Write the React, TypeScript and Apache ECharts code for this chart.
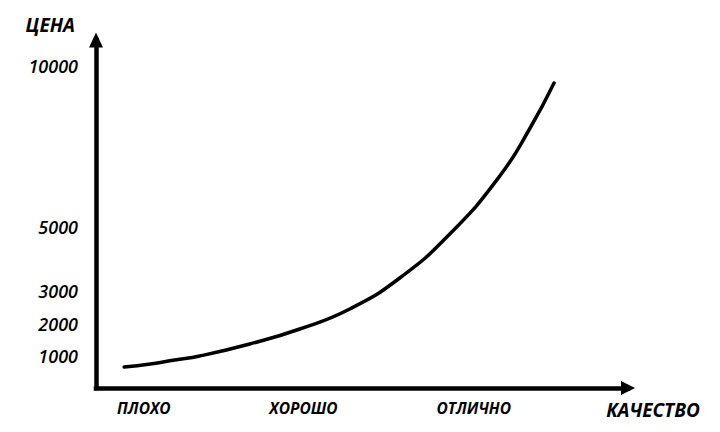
import React, { useEffect, useRef } from "react";
import * as echarts from "echarts";

// Quality axis (x): label names and their positions on a 0..100 quality score
const qualityLabels = ["ПЛОХО", "ХОРОШО", "ОТЛИЧНО"];
const qualityScores = [9, 39, 71];

// Price axis (y): tick labels shown
const priceTicks = [1000, 2000, 3000, 5000, 10000];

// Price–quality curve
const curveQuality = [5.3, 10.2, 14.8, 19.5, 28.9, 38.3, 47.7, 57.1, 66.5, 75.9, 81.6, 86.1];
const curvePrice = [652, 745, 869, 993, 1366, 1831, 2452, 3414, 4779, 6579, 8069, 9466];

const FONT = "'Open Sans', 'Noto Sans', sans-serif";

export default function App() {
  const ref = useRef<HTMLDivElement>(null);

  useEffect(() => {
    if (!ref.current) return;
    const chart = echarts.init(ref.current, null, { renderer: "svg" });
    const axisLineStyle = { color: "#000", width: 4.5, cap: "square" as const };
    chart.setOption({
      animation: false,
      backgroundColor: "#fff",
      grid: { left: 96, right: 92, top: 40, bottom: 44, outerBoundsMode: "none", containLabel: false },
      xAxis: {
        type: "value",
        min: 0,
        max: 100,
        name: "КАЧЕСТВО",
        nameLocation: "end",
        nameGap: 25,
        nameTextStyle: {
          fontFamily: FONT,
          fontSize: 19,
          fontStyle: "italic",
          fontWeight: "bold",
          color: "#000",
          align: "center",
          verticalAlign: "top",
          padding: [12, 0, 0, 0],
        },
        axisLine: { show: true, onZero: false, symbol: ["none", "triangle"], symbolSize: [14, 14], lineStyle: axisLineStyle },
        axisTick: { show: false },
        splitLine: { show: false },
        axisLabel: {
          customValues: qualityScores,
          formatter: (v: number) => {
            const i = qualityScores.indexOf(v);
            return i >= 0 ? qualityLabels[i] : "";
          },
          margin: 12,
          fontFamily: FONT,
          fontSize: 15.5,
          fontStyle: "italic",
          fontWeight: "bold",
          color: "#000",
        },
      },
      yAxis: {
        type: "value",
        min: 0,
        max: 10800,
        name: "ЦЕНА",
        nameLocation: "end",
        nameGap: 15,
        nameTextStyle: {
          fontFamily: FONT,
          fontSize: 19,
          fontStyle: "italic",
          fontWeight: "bold",
          color: "#000",
          align: "right",
          verticalAlign: "middle",
          padding: [0, 21, 0, 0],
        },
        axisLine: { show: true, onZero: false, symbol: ["none", "triangle"], symbolSize: [14, 15], lineStyle: axisLineStyle },
        axisTick: { show: false },
        splitLine: { show: false },
        axisLabel: {
          customValues: priceTicks,
          formatter: (v: number) => String(v),
          margin: 18,
          fontFamily: FONT,
          fontSize: 18,
          fontStyle: "italic",
          fontWeight: 600,
          color: "#000",
        },
      },
      series: [
        {
          type: "line",
          data: curveQuality.map((q, i) => [q, curvePrice[i]]),
          smooth: 0.5,
          showSymbol: false,
          lineStyle: { color: "#000", width: 3.5, cap: "round" },
        },
      ],
    });
    return () => chart.dispose();
  }, []);

  return <div ref={ref} style={{ position: "fixed", left: 0, top: 0, width: 720, height: 432 }} />;
}
